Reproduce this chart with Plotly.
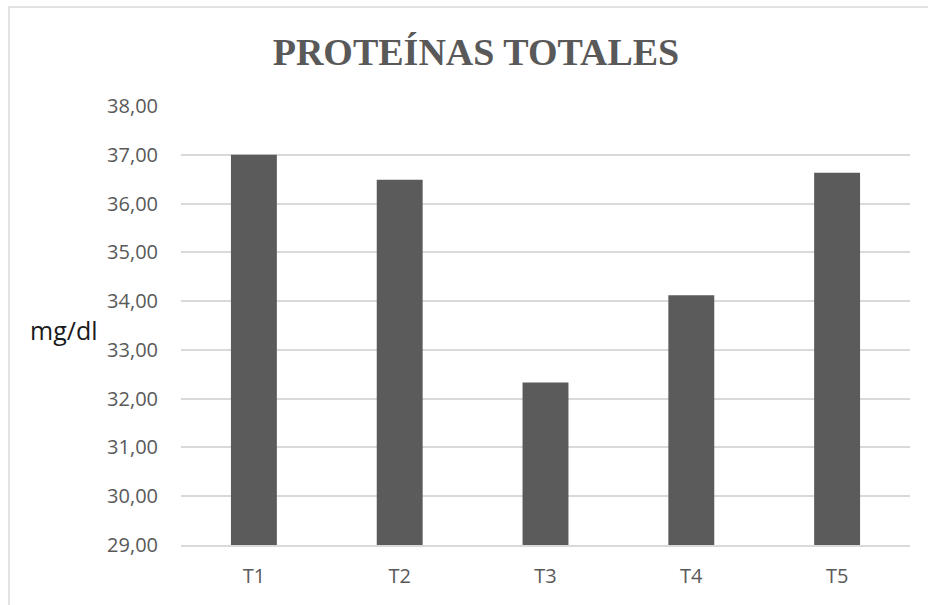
import plotly.graph_objects as go

# Total protein per treatment (mg/dl)
treatments = ["T1", "T2", "T3", "T4", "T5"]
protein_mg_dl = [37.00, 36.49, 32.33, 34.12, 36.63]

y_ticks = [29, 30, 31, 32, 33, 34, 35, 36, 37, 38]
y_tick_labels = ["29,00", "30,00", "31,00", "32,00", "33,00",
                 "34,00", "35,00", "36,00", "37,00", "38,00"]

W, H = 928, 605
L, R, T, B = 181, 18, 106, 60
plot_w = W - L - R
plot_h = H - T - B

fig = go.Figure(
    go.Bar(
        x=treatments,
        y=protein_mg_dl,
        marker=dict(color="#5b5b5b", line=dict(width=0)),
    )
)

fig.update_layout(
    width=W,
    height=H,
    margin=dict(l=L, r=R, t=T, b=B),
    paper_bgcolor="white",
    plot_bgcolor="white",
    bargap=0.685,
    showlegend=False,
    title=dict(
        text="<b>PROTEÍNAS TOTALES</b>",
        font=dict(family="Liberation Serif", size=38, color="#595959"),
        x=(476 / W),
        xanchor="center",
        y=1 - 52 / H,
        yanchor="middle",
    ),
    font=dict(family="Open Sans", color="#595959"),
)

fig.update_yaxes(
    range=[29, 38],
    tickvals=y_ticks,
    ticktext=y_tick_labels,
    tickfont=dict(family="Open Sans", size=20, color="#595959"),
    showgrid=True,
    gridcolor="#d9d9d9",
    gridwidth=1.5,
    zeroline=False,
    showline=False,
    ticks="",
    ticklabelstandoff=22,
)

fig.update_xaxes(
    tickfont=dict(family="Open Sans", size=20, color="#595959"),
    showline=True,
    linecolor="#d9d9d9",
    linewidth=1.5,
    ticks="",
    ticklabelstandoff=12,
)

# Axis unit label, horizontal at the left
fig.add_annotation(
    text="mg/dl",
    xref="paper", yref="paper",
    x=(64 - L) / plot_w, y=(H - B - 330) / plot_h,
    xanchor="center", yanchor="middle",
    showarrow=False,
    font=dict(family="Open Sans", size=25, color="#1a1a1a"),
)

# Light chart-area frame
fig.add_shape(
    type="rect",
    xref="paper", yref="paper",
    x0=(9 - L) / plot_w, x1=(W + 5 - L) / plot_w,
    y0=(H - B - (H + 5)) / plot_h, y1=(H - B - 7) / plot_h,
    line=dict(color="#d9d9d9", width=1.5),
    fillcolor="rgba(0,0,0,0)",
    layer="below",
)

fig.write_html("out.html")
